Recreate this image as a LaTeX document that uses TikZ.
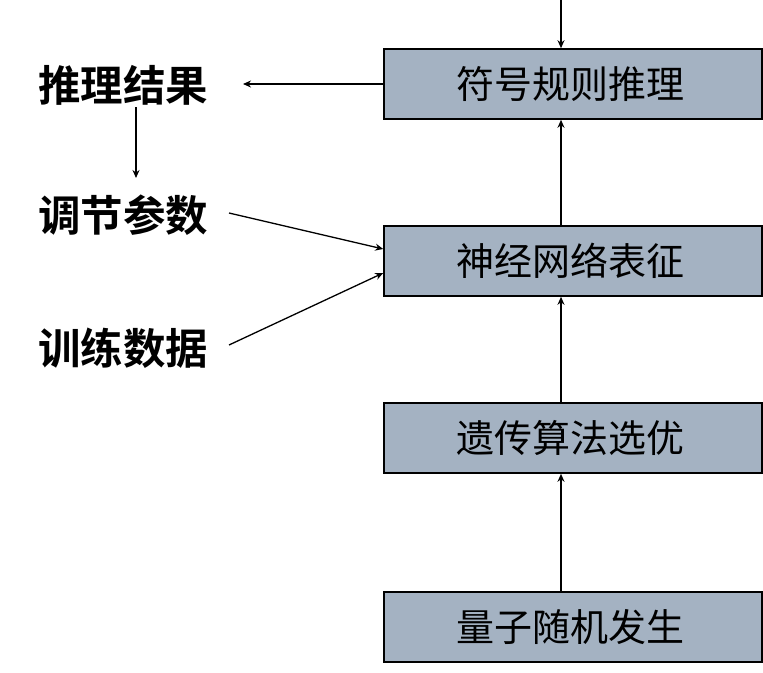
\documentclass[tikz,border=0pt]{standalone}
\usepackage{fontspec}
\newfontfamily\cjk{Noto Sans CJK SC}
\newfontfamily\cjkb{Noto Sans CJK SC Bold}
\usetikzlibrary{arrows.meta}
\definecolor{boxfill}{RGB}{164,178,194}
\begin{document}
\begin{tikzpicture}[x=1pt,y=-1pt,
  stage/.style={draw=black,line width=1.6pt,fill=boxfill,minimum width=378pt,minimum height=70pt,inner sep=0pt,font=\cjk\fontsize{38}{40}\selectfont},
  lbl/.style={inner sep=0pt,font=\cjkb\fontsize{42.5}{44}\selectfont},
  arr/.style={line width=1.3pt,-{Stealth[length=8pt,width=7pt]}}]
\useasboundingbox (0,0) rectangle (763,672);
\node[stage] (b1) at (573,84) {\hspace*{-6pt}符号规则推理};
\node[stage] (b2) at (573,261) {\hspace*{-6pt}神经网络表征};
\node[stage] (b3) at (573,438) {\hspace*{-6pt}遗传算法选优};
\node[stage] (b4) at (573,627) {\hspace*{-6pt}量子随机发生};
\node[lbl] (l1) at (123,85) {推理结果};
\node[lbl] (l2) at (123,215) {调节参数};
\node[lbl] (l3) at (123,348) {训练数据};
\coordinate (top) at (561,0);
\draw[arr] (top) -- (top|-b1.north);
\draw[arr] (b2.north-|top) -- (b1.south-|top);
\draw[arr] (b3.north-|top) -- (b2.south-|top);
\draw[arr] (b4.north-|top) -- (b3.south-|top);
\coordinate (r1) at (243,84);
\draw[arr] (b1.west) -- (r1);
\coordinate (d1) at (136,107);
\coordinate (d2) at (136,178);
\draw[arr] (d1) -- (d2);
\coordinate (s2) at (229,213);
\coordinate (s3) at (229,345);
\draw[arr] (s2) -- (b2.west|-0,249);
\draw[arr] (s3) -- (b2.west|-0,273);
\end{tikzpicture}
\end{document}
